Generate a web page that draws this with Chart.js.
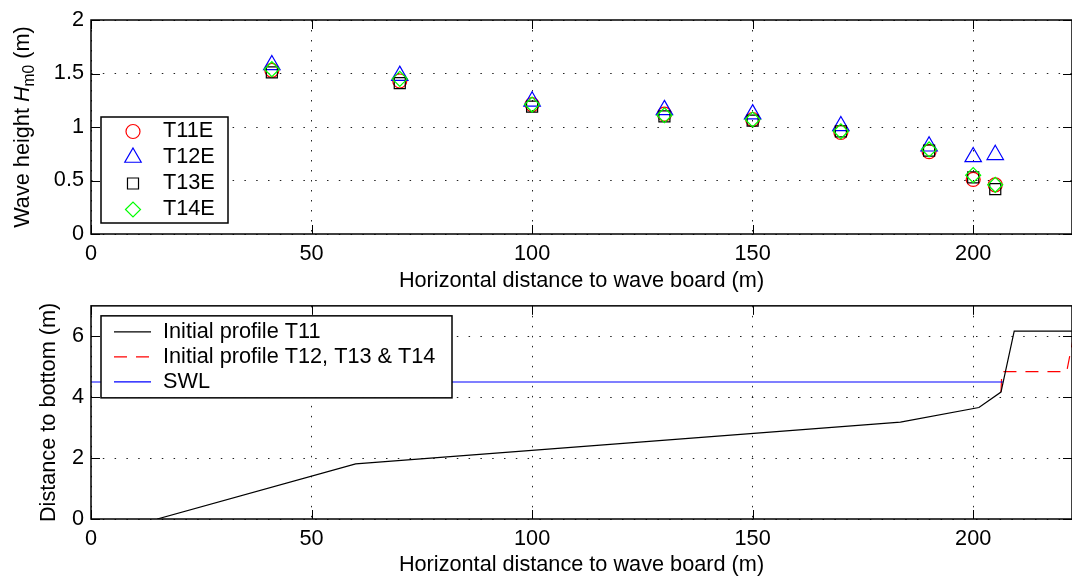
<!DOCTYPE html>
<html>
<head>
<meta charset="utf-8">
<script src="https://cdn.jsdelivr.net/npm/chart.js@4.4.1/dist/chart.umd.min.js"></script>
<style>
  html, body { margin: 0; padding: 0; background: #fff; }
  #wrap { position: relative; width: 1072px; height: 576px; overflow: hidden; }
  canvas { position: absolute; left: 0; }
  #topChart { top: 0; }
  #bottomChart { top: 288px; }
</style>
</head>
<body>
<div id="wrap">
  <canvas id="topChart" width="1072" height="292"></canvas>
  <canvas id="bottomChart" width="1072" height="288"></canvas>
</div>
<script>
// gauge positions (m from wave board)
var gaugeX = [41, 70, 100, 130, 150, 170, 190, 200, 205];
// measured wave height Hm0 (m)
var hT11 = [1.53, 1.43, 1.21, 1.12, 1.07, 0.95, 0.77, 0.51, 0.46];
var hT12 = [1.58, 1.48, 1.24, 1.16, 1.12, 1.01, 0.82, 0.72, 0.74];
var hT13 = [1.51, 1.41, 1.19, 1.10, 1.06, 0.96, 0.78, 0.53, 0.42];
var hT14 = [1.54, 1.45, 1.21, 1.11, 1.07, 0.96, 0.79, 0.55, 0.46];

// bottom profiles (distance to bottom, m)
var t11X = [15, 60, 183.5, 201.3, 206.3, 209.3, 223];
var t11Y = [0, 1.81, 3.18, 3.66, 4.17, 6.17, 6.17];
// T12-T14 only differs from T11 near the dike, rest is hidden under it
var t12X = [206.3, 206.5, 221.2, 223];
var t12Y = [4.17, 4.84, 4.84, 6.17];
var swlX = [0, 206.8];
var swlY = [4.5, 4.5];

var xTicks = [0, 50, 100, 150, 200];
var hTicks = [0, 0.5, 1, 1.5, 2];
var dTicks = [0, 2, 4, 6];

var X_MAX = 222.4;
var FONT = '"Liberation Sans", Arial, Helvetica, sans-serif';
var FS = 21.7;
var xTitle = 'Horizontal distance to wave board (m)';

Chart.defaults.font.family = FONT;
Chart.defaults.font.size = FS;
Chart.defaults.color = '#000';

function pts(xs, ys) {
  return xs.map(function(x, i) { return {x: x, y: ys[i]}; });
}

function markers(label, values, color, style, radius, order) {
  return {
    label: label,
    data: pts(gaugeX, values),
    showLine: false,
    pointStyle: style,
    pointRadius: radius,
    pointHoverRadius: radius,
    borderColor: color,
    pointBorderColor: color,
    backgroundColor: 'rgba(0,0,0,0)',
    pointBackgroundColor: 'rgba(0,0,0,0)',
    borderWidth: 1.2,
    pointBorderWidth: 1.2,
    order: order
  };
}

function profile(label, xs, ys, color, dash, order) {
  return {
    label: label,
    data: pts(xs, ys),
    showLine: true,
    borderColor: color,
    borderWidth: 1.2,
    borderDash: dash,
    pointRadius: 0,
    tension: 0,
    fill: false,
    order: order
  };
}

function xScale(h) {
  return {
    type: 'linear', min: 0, max: X_MAX,
    afterBuildTicks: function(s) { s.ticks = xTicks.map(function(v) { return {value: v}; }); },
    afterFit: function(s) { s.height = h; },
    grid: { color: '#222', lineWidth: 1, drawTicks: false },
    border: { display: false, dash: [1.5, 8.5] },
    ticks: { autoSkip: false, maxRotation: 0, padding: 9.5, font: { size: FS, lineHeight: 1 },
      callback: function(v) { return String(v); } },
    title: { display: true, text: xTitle, padding: 0, font: { size: FS, lineHeight: 1 } }
  };
}

function yScale(min, max, tickVals, title) {
  return {
    type: 'linear', min: min, max: max,
    afterBuildTicks: function(s) { s.ticks = tickVals.map(function(v) { return {value: v}; }); },
    afterFit: function(s) { s.width = 91; },
    grid: { color: '#222', lineWidth: 1, drawTicks: false },
    border: { display: false, dash: [1.5, 10.3] },
    ticks: { autoSkip: false, padding: 7, font: { size: FS, lineHeight: 1 },
      callback: function(v) { return String(v); } },
    title: title ? { display: true, text: title, padding: { top: 38, bottom: 0 }, font: { size: FS, lineHeight: 1 } } : { display: false }
  };
}

// box around plot area + ticks pointing inwards (matlab style)
var axesBox = {
  id: 'axesBox',
  afterDatasetsDraw: function(chart) {
    var ctx = chart.ctx, a = chart.chartArea;
    var sx = chart.scales.x, sy = chart.scales.y;
    ctx.save();
    ctx.strokeStyle = '#000';
    ctx.lineWidth = 1;
    ctx.beginPath();
    sx.ticks.forEach(function(t) {
      var p = Math.round(sx.getPixelForValue(t.value)) + 0.5;
      ctx.moveTo(p, a.bottom); ctx.lineTo(p, a.bottom - 9);
      ctx.moveTo(p, a.top); ctx.lineTo(p, a.top + 9);
    });
    sy.ticks.forEach(function(t) {
      var p = Math.round(sy.getPixelForValue(t.value)) + 0.5;
      ctx.moveTo(a.left, p); ctx.lineTo(a.left + 9, p);
      ctx.moveTo(a.right, p); ctx.lineTo(a.right - 9, p);
    });
    ctx.stroke();
    ctx.lineWidth = 1.5;
    ctx.strokeRect(a.left, a.top, a.right - a.left, a.bottom - a.top);
    ctx.restore();
  }
};

// legend box inside the axes
var boxLegend = {
  id: 'boxLegend',
  afterDraw: function(chart, args, o) {
    var ctx = chart.ctx, a = chart.chartArea;
    var x0 = a.left + o.left, y0 = a.top + o.top;
    ctx.save();
    ctx.fillStyle = '#fff';
    ctx.fillRect(x0, y0, o.width, o.height);
    ctx.lineWidth = 1.5;
    ctx.strokeStyle = '#000';
    ctx.strokeRect(x0, y0, o.width, o.height);
    chart.data.datasets.forEach(function(ds, i) {
      var cy = y0 + o.firstRow + i * o.rowGap;
      ctx.save();
      ctx.strokeStyle = ds.borderColor;
      ctx.lineWidth = ds.borderWidth;
      if (ds.showLine) {
        ctx.setLineDash(ds.borderDash || []);
        ctx.beginPath();
        ctx.moveTo(x0 + 13, cy);
        ctx.lineTo(x0 + 50, cy);
        ctx.stroke();
      } else {
        ctx.fillStyle = 'rgba(0,0,0,0)';
        Chart.helpers.drawPoint(ctx, { pointStyle: ds.pointStyle, radius: ds.pointRadius, rotation: 0, borderWidth: ds.borderWidth }, x0 + 32, cy);
      }
      ctx.restore();
      ctx.fillStyle = '#000';
      ctx.font = FS + 'px ' + FONT;
      ctx.textBaseline = 'middle';
      ctx.textAlign = 'left';
      ctx.fillText(ds.label, x0 + o.textX, cy);
    });
    ctx.restore();
  }
};

// y title with italic H and subscript m0
var hm0Title = {
  id: 'hm0Title',
  afterDraw: function(chart) {
    var ctx = chart.ctx, a = chart.chartArea;
    var parts = [
      { t: 'Wave height ', f: FS + 'px ' + FONT, dy: 0 },
      { t: 'H', f: 'italic ' + FS + 'px ' + FONT, dy: 0 },
      { t: 'm0', f: (FS * 0.72) + 'px ' + FONT, dy: 5 },
      { t: ' (m)', f: FS + 'px ' + FONT, dy: 0 }
    ];
    ctx.save();
    var total = 0;
    parts.forEach(function(p) { ctx.font = p.f; p.w = ctx.measureText(p.t).width; total += p.w; });
    ctx.translate(28.5, (a.top + a.bottom) / 2);
    ctx.rotate(-Math.PI / 2);
    ctx.fillStyle = '#000';
    ctx.textBaseline = 'alphabetic';
    ctx.textAlign = 'left';
    var x = -total / 2;
    parts.forEach(function(p) { ctx.font = p.f; ctx.fillText(p.t, x, p.dy); x += p.w; });
    ctx.restore();
  }
};

new Chart(document.getElementById('topChart'), {
  type: 'scatter',
  data: {
    datasets: [
      markers('T11E', hT11, '#ff0000', 'circle', 7, 4),
      markers('T12E', hT12, '#0000ff', 'triangle', 9.5, 3),
      markers('T13E', hT13, '#000000', 'rect', 7.8, 2),
      markers('T14E', hT14, '#00ff00', 'rectRot', 7.5, 1)
    ]
  },
  options: {
    responsive: false,
    animation: false,
    events: [],
    layout: { autoPadding: false, padding: { top: 20, right: 0, bottom: 0, left: 0 } },
    scales: { x: xScale(58), y: yScale(0, 2, hTicks, null) },
    plugins: {
      legend: { display: false },
      tooltip: { enabled: false },
      boxLegend: { left: 10, top: 97, width: 127, height: 106, firstRow: 14.5, rowGap: 26, textX: 62 }
    }
  },
  plugins: [axesBox, boxLegend, hm0Title]
});

new Chart(document.getElementById('bottomChart'), {
  type: 'scatter',
  data: {
    datasets: [
      profile('Initial profile T11', t11X, t11Y, '#000000', [], 1),
      profile('Initial profile T12, T13 & T14', t12X, t12Y, '#ff0000', [13, 9], 3),
      profile('SWL', swlX, swlY, '#0000ff', [], 2)
    ]
  },
  options: {
    responsive: false,
    animation: false,
    events: [],
    layout: { autoPadding: false, padding: { top: 16, right: 0, bottom: 0, left: 0 } },
    scales: { x: xScale(57), y: yScale(0, 7, dTicks, 'Distance to bottom (m)') },
    plugins: {
      legend: { display: false },
      tooltip: { enabled: false },
      boxLegend: { left: 10, top: 10, width: 351, height: 82, firstRow: 16, rowGap: 25, textX: 62 }
    }
  },
  plugins: [axesBox, boxLegend]
});
</script>
</body>
</html>
